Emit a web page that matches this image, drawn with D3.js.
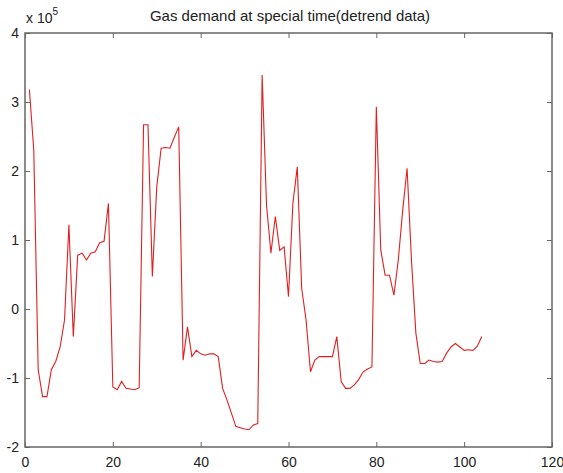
<!DOCTYPE html>
<html>
<head>
<meta charset="utf-8">
<script src="https://cdn.jsdelivr.net/npm/d3@7"></script>
<style>
  body { margin: 0; background: #fff; }
  svg text { font-family: "Liberation Sans", Arial, sans-serif; fill: #222; }
</style>
</head>
<body>
<svg id="chart" width="563" height="473"></svg>
<script>
// detrended gas demand, units of 1e5
const demand = [
  3.18, 2.30, -0.88, -1.27, -1.27, -0.88, -0.76, -0.55, -0.16, 1.22,
  -0.40, 0.78, 0.81, 0.71, 0.81, 0.83, 0.96, 0.98, 1.53, -1.13,
  -1.17, -1.05, -1.15, -1.16, -1.17, -1.14, 2.67, 2.67, 0.47, 1.77,
  2.33, 2.34, 2.33, 2.49, 2.64, -0.74, -0.26, -0.69, -0.60, -0.65,
  -0.67, -0.65, -0.65, -0.69, -1.15, -1.32, -1.51, -1.70, -1.72, -1.74,
  -1.75, -1.68, -1.66, 3.39, 1.50, 0.81, 1.34, 0.85, 0.90, 0.18,
  1.53, 2.06, 0.30, -0.16, -0.91, -0.74, -0.69, -0.69, -0.69, -0.69,
  -0.40, -1.05, -1.15, -1.15, -1.10, -1.02, -0.91, -0.87, -0.84, 2.93,
  0.86, 0.49, 0.49, 0.20, 0.71, 1.43, 2.04, 0.71, -0.35, -0.79,
  -0.79, -0.74, -0.76, -0.77, -0.76, -0.64, -0.55, -0.50, -0.55, -0.60,
  -0.59, -0.60, -0.54, -0.40
];
const xTicks = [0, 20, 40, 60, 80, 100, 120];
const yTicks = [-2, -1, 0, 1, 2, 3, 4];
const title = 'Gas demand at special time(detrend data)';

const svg = d3.select('#chart');
const plotL = 25, plotR = 552, plotT = 33, plotB = 447;

const x = d3.scaleLinear().domain([0, 120]).range([plotL, plotR]);
const y = d3.scaleLinear().domain([-2, 4]).range([plotB, plotT]);

const axisColor = '#666';
const tick = 5;
const plain = d => String(d);

// ticks on all four sides, pointing inward
function box(g, axis) {
  g.call(axis);
  g.select('.domain').remove();
  g.selectAll('line').attr('stroke', axisColor).attr('stroke-width', 1);
  g.selectAll('text').attr('fill', '#222').style('font-size', '14px').attr('font-family', null);
}

svg.append('g').attr('transform', `translate(0,${plotB})`)
  .call(box, d3.axisBottom(x).tickValues(xTicks).tickFormat(plain).tickSizeInner(-tick).tickSizeOuter(0).tickPadding(9))
  .selectAll('text').attr('dy', '0.8em');
svg.append('g').attr('transform', `translate(0,${plotT})`)
  .call(box, d3.axisTop(x).tickValues(xTicks).tickSizeInner(-tick).tickSizeOuter(0).tickFormat(''));
svg.append('g').attr('transform', `translate(${plotL},0)`)
  .call(box, d3.axisLeft(y).tickValues(yTicks).tickFormat(plain).tickSizeInner(-tick).tickSizeOuter(0).tickPadding(6));
svg.append('g').attr('transform', `translate(${plotR},0)`)
  .call(box, d3.axisRight(y).tickValues(yTicks).tickSizeInner(-tick).tickSizeOuter(0).tickFormat(''));

svg.append('rect')
  .attr('x', plotL).attr('y', plotT)
  .attr('width', plotR - plotL).attr('height', plotB - plotT)
  .attr('fill', 'none').attr('stroke', axisColor).attr('stroke-width', 1.5);

const line = d3.line()
  .x((d, i) => x(i + 1))
  .y(d => y(d));

svg.append('path')
  .datum(demand)
  .attr('fill', 'none')
  .attr('stroke', '#e02020')
  .attr('stroke-width', 1.1)
  .attr('d', line);

svg.append('text')
  .attr('x', 290).attr('y', 21)
  .attr('text-anchor', 'middle')
  .style('font-size', '15px')
  .text(title);

const exp = svg.append('text').attr('x', 26).attr('y', 23).style('font-size', '14px');
exp.append('tspan').text('x 10');
exp.append('tspan').attr('dy', -8).style('font-size', '10px').text('5');
</script>
</body>
</html>
